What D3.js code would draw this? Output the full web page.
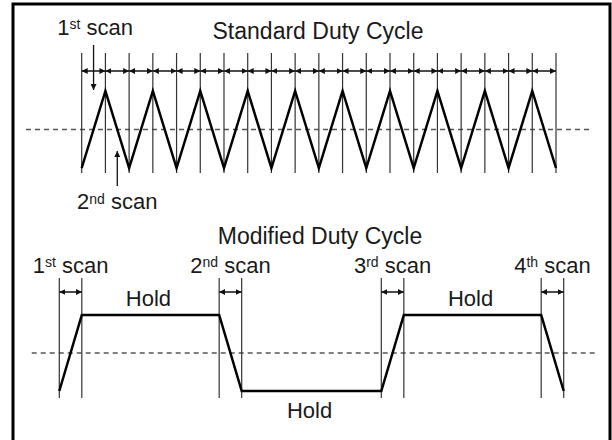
<!DOCTYPE html>
<html>
<head>
<meta charset="utf-8">
<script src="https://cdn.jsdelivr.net/npm/d3@7"></script>
<style>
  body { margin: 0; background: #fff; }
  text { font-family: "Liberation Sans", Arial, sans-serif; fill: #1a1a1a; }
</style>
</head>
<body>
<div id="chart"></div>
<script>
(function () {

    // standard duty cycle: scan boundaries (scan index) and level at each boundary
    const stdTimes = [0, 1, 2, 3, 4, 5, 6, 7, 8, 9, 10, 11, 12, 13, 14, 15, 16, 17, 18, 19, 20]
    const stdLevels = [-1, 1, -1, 1, -1, 1, -1, 1, -1, 1, -1, 1, -1, 1, -1, 1, -1, 1, -1, 1, -1]

    // modified duty cycle: scan / hold boundaries and levels
    const modTimes = [0, 1, 7.1, 8.1, 14.3, 15.3, 21.4, 22.4]
    const modLevels = [-1, 1, 1, -1, -1, 1, 1, -1]
    const modScans = [['1', 'st'], ['2', 'nd'], ['3', 'rd'], ['4', 'th']]
    const modHolds = [
        { from: 1, to: 7.1, side: 'top' },
        { from: 8.1, to: 14.3, side: 'bottom' },
        { from: 15.3, to: 21.4, side: 'top' }
    ]

    const width = 612, height = 440;

    const svg = d3.select('#chart')
        .append('svg')
        .attr('width', width)
        .attr('height', height);

    const defs = svg.append('defs');
    defs.append('marker')
        .attr('id', 'head')
        .attr('viewBox', '0 0 10 10')
        .attr('refX', 10)
        .attr('refY', 5)
        .attr('markerWidth', 6)
        .attr('markerHeight', 6)
        .attr('markerUnits', 'userSpaceOnUse')
        .attr('orient', 'auto-start-reverse')
        .append('path')
        .attr('d', 'M0,0L10,5L0,10Z')
        .attr('fill', '#111');

    // frame
    svg.append('rect')
        .attr('x', 13)
        .attr('y', 4)
        .attr('width', 597)
        .attr('height', 470)
        .attr('fill', 'none')
        .attr('stroke', '#000')
        .attr('stroke-width', 3);

    function scanLabel(g, x, y, num, sup, supSize, raise) {
        const t = g.append('text')
            .attr('x', x)
            .attr('y', y)
            .attr('text-anchor', 'middle')
            .style('font-size', '22px');
        t.append('tspan').text(num);
        t.append('tspan').attr('dy', -raise).style('font-size', supSize + 'px').text(sup);
        t.append('tspan').attr('dy', raise).text(' scan');
    }

    // ---------- standard duty cycle ----------
    const xs = d3.scaleLinear().domain([0, 20]).range([81.7, 556]);
    const ys = d3.scaleLinear().domain([-1, 1]).range([168, 91]);

    const top = svg.append('g');

    top.append('text')
        .attr('x', 318)
        .attr('y', 39)
        .attr('text-anchor', 'middle')
        .style('font-size', '23px')
        .text('Standard Duty Cycle');

    top.append('line')
        .attr('x1', 26).attr('x2', 591)
        .attr('y1', ys(0)).attr('y2', ys(0))
        .attr('stroke', '#555')
        .attr('stroke-width', 1.3)
        .attr('stroke-dasharray', '5,4');

    top.selectAll('.vline')
        .data(stdTimes)
        .join('line')
        .attr('class', 'vline')
        .attr('x1', d => xs(d)).attr('x2', d => xs(d))
        .attr('y1', 53).attr('y2', 173)
        .attr('stroke', '#333')
        .attr('stroke-width', 1.2);

    top.selectAll('.span')
        .data(stdTimes.slice(1))
        .join('line')
        .attr('class', 'span')
        .attr('x1', (d, i) => xs(stdTimes[i])).attr('x2', d => xs(d))
        .attr('y1', 71).attr('y2', 71)
        .attr('stroke', '#111')
        .attr('stroke-width', 1.5)
        .attr('marker-start', 'url(#head)')
        .attr('marker-end', 'url(#head)');

    const lineStd = d3.line()
        .x((d, i) => xs(stdTimes[i]))
        .y(d => ys(d));

    top.append('path')
        .datum(stdLevels)
        .attr('d', lineStd)
        .attr('fill', 'none')
        .attr('stroke', '#000')
        .attr('stroke-width', 2.5)
        .attr('stroke-linejoin', 'miter');

    // 1st / 2nd scan callouts
    const mid0 = (xs(stdTimes[0]) + xs(stdTimes[1])) / 2;
    const mid1 = (xs(stdTimes[1]) + xs(stdTimes[2])) / 2;

    scanLabel(top, mid0 + 1.5, 35, '1', 'st', 14, 6);
    top.append('line')
        .attr('x1', mid0).attr('x2', mid0)
        .attr('y1', 45).attr('y2', 90)
        .attr('stroke', '#111')
        .attr('stroke-width', 1.3)
        .attr('marker-end', 'url(#head)');

    scanLabel(top, mid1, 209, '2', 'nd', 14, 5);
    top.append('line')
        .attr('x1', mid1).attr('x2', mid1)
        .attr('y1', 186).attr('y2', 151)
        .attr('stroke', '#111')
        .attr('stroke-width', 1.3)
        .attr('marker-end', 'url(#head)');

    // ---------- modified duty cycle ----------
    const xm = d3.scaleLinear().domain([0, 22.4]).range([59.3, 563.7]);
    const ym = d3.scaleLinear().domain([-1, 1]).range([391, 315]);

    const bot = svg.append('g');

    bot.append('text')
        .attr('x', 320)
        .attr('y', 244)
        .attr('text-anchor', 'middle')
        .style('font-size', '23px')
        .text('Modified Duty Cycle');

    bot.append('line')
        .attr('x1', 31.7).attr('x2', 596)
        .attr('y1', ym(0)).attr('y2', ym(0))
        .attr('stroke', '#555')
        .attr('stroke-width', 1.3)
        .attr('stroke-dasharray', '5,4');

    bot.selectAll('.vline')
        .data(modTimes)
        .join('line')
        .attr('class', 'vline')
        .attr('x1', d => xm(d)).attr('x2', d => xm(d))
        .attr('y1', 278).attr('y2', 398)
        .attr('stroke', '#333')
        .attr('stroke-width', 1.2);

    const scanPairs = modScans.map((s, i) => [modTimes[2 * i], modTimes[2 * i + 1]]);

    bot.selectAll('.span')
        .data(scanPairs)
        .join('line')
        .attr('class', 'span')
        .attr('x1', d => xm(d[0])).attr('x2', d => xm(d[1]))
        .attr('y1', 292).attr('y2', 292)
        .attr('stroke', '#111')
        .attr('stroke-width', 1.5)
        .attr('marker-start', 'url(#head)')
        .attr('marker-end', 'url(#head)');

    scanPairs.forEach((p, i) => {
        scanLabel(bot, (xm(p[0]) + xm(p[1])) / 2, 273, modScans[i][0], modScans[i][1], 14, 6);
    });

    const lineMod = d3.line()
        .x((d, i) => xm(modTimes[i]))
        .y(d => ym(d));

    bot.append('path')
        .datum(modLevels)
        .attr('d', lineMod)
        .attr('fill', 'none')
        .attr('stroke', '#000')
        .attr('stroke-width', 2.5);

    bot.selectAll('.hold')
        .data(modHolds)
        .join('text')
        .attr('class', 'hold')
        .attr('x', d => (xm(d.from) + xm(d.to)) / 2 - 2)
        .attr('y', d => d.side === 'top' ? 306 : 418)
        .attr('text-anchor', 'middle')
        .style('font-size', '22px')
        .text('Hold');

})();
</script>
</body>
</html>
